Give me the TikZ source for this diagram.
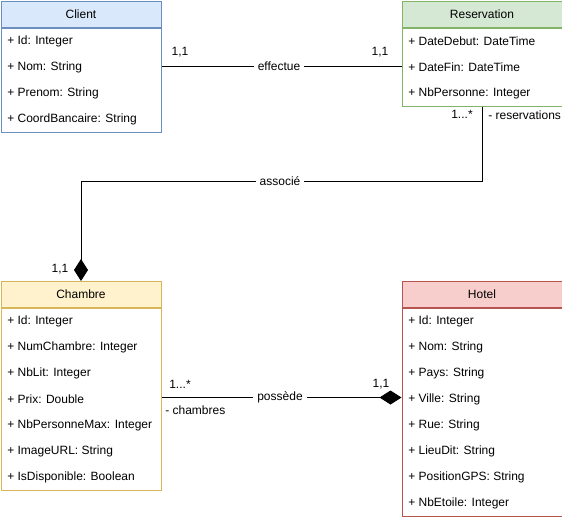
\documentclass[tikz,border=0pt]{standalone}
\usepackage{fontspec}
\setmainfont{Liberation Sans}
\usetikzlibrary{arrows.meta}
\definecolor{bluefill}{HTML}{DAE8FC}
\definecolor{bluedraw}{HTML}{6C8EBF}
\definecolor{greenfill}{HTML}{D5E8D4}
\definecolor{greendraw}{HTML}{82B366}
\definecolor{yellowfill}{HTML}{FFF2CC}
\definecolor{yellowdraw}{HTML}{D6B656}
\definecolor{redfill}{HTML}{F8CECC}
\definecolor{reddraw}{HTML}{B85450}
\begin{document}
\begin{tikzpicture}[x=0.75pt,y=-0.75pt,
  every node/.style={font=\fontsize{9}{11}\selectfont},
  classhdr/.style={draw, line width=0.75pt, minimum width=120pt, minimum height=19.5pt, anchor=north west, inner sep=0pt},
  classbody/.style={draw, line width=0.75pt, fill=white, minimum width=120pt, anchor=north west, inner sep=0pt},
  attr/.style={anchor=west, inner sep=0pt, yshift=-0.75pt},
  lbl/.style={inner sep=0pt},
  midlbl/.style={fill=white, inner xsep=3pt, inner ysep=1pt},
  conn/.style={line width=0.75pt, draw=black},
  compo/.style={conn, -{Diamond[length=16.5pt,width=10.5pt,fill=black]}}
]
\useasboundingbox (0,0) rectangle (562,518);

% Client
\node[classhdr, fill=bluefill, draw=bluedraw] (client) at (0.5,0.5) {Client};
\node[classbody, draw=bluedraw, minimum height=78pt] (clientb) at (client.south west) {};
\node[attr] (c1) at (7,40) {+ Id: Integer};
\node[attr] (c2) at (7,66) {+ Nom: String};
\node[attr] (c3) at (7,92) {+ Prenom: String};
\node[attr] (c4) at (7,118) {+ CoordBancaire: String};

% Reservation
\node[classhdr, fill=greenfill, draw=greendraw] (res) at (401.5,0.5) {Reservation};
\node[classbody, draw=greendraw, minimum height=58.5pt] (resb) at (res.south west) {};
\node[attr] (r1) at (408,40) {+ DateDebut: DateTime};
\node[attr] (r2) at (408,66) {+ DateFin: DateTime};
\node[attr] (r3) at (408,92) {+ NbPersonne: Integer};

% Chambre
\node[classhdr, fill=yellowfill, draw=yellowdraw] (cham) at (0.5,281) {Chambre};
\node[classbody, draw=yellowdraw, minimum height=136.5pt] (chamb) at (cham.south west) {};
\node[attr] (h1) at (7,320) {+ Id: Integer};
\node[attr] (h2) at (7,346) {+ NumChambre: Integer};
\node[attr] (h3) at (7,372) {+ NbLit: Integer};
\node[attr] (h4) at (7,398) {+ Prix: Double};
\node[attr] (h5) at (7,424) {+ NbPersonneMax: Integer};
\node[attr] (h6) at (7,450) {+ ImageURL: String};
\node[attr] (h7) at (7,476) {+ IsDisponible: Boolean};

% Hotel
\node[classhdr, fill=redfill, draw=reddraw] (hotel) at (401.5,281) {Hotel};
\node[classbody, draw=reddraw, minimum height=156pt] (hotelb) at (hotel.south west) {};
\node[attr] (o1) at (408,320) {+ Id: Integer};
\node[attr] (o2) at (408,346) {+ Nom: String};
\node[attr] (o3) at (408,372) {+ Pays: String};
\node[attr] (o4) at (408,398) {+ Ville: String};
\node[attr] (o5) at (408,424) {+ Rue: String};
\node[attr] (o6) at (408,450) {+ LieuDit: String};
\node[attr] (o7) at (408,476) {+ PositionGPS: String};
\node[attr] (o8) at (408,502) {+ NbEtoile: Integer};

% effectue
\draw[conn] (clientb.east |- 0,66) -- (resb.west |- 0,66);
\node[midlbl] (eff) at (279,66) {effectue};
\node[lbl] (m1) at (180,52) {1,1};
\node[lbl] (m2) at (380,52) {1,1};

% associé
\draw[compo] (resb.south) -- (resb.south |- 0,181) -| (cham.north);
\node[midlbl] (assoc) at (280,181) {associé};
\node[lbl] (m3) at (462,114) {1...*};
\node[lbl, anchor=west] (m4) at (488,115) {- reservations};
\node[lbl] (m5) at (60,269) {1,1};

% possède
\draw[compo] (chamb.east |- 0,397.5) -- (hotelb.west |- 0,397.5);
\node[midlbl] (poss) at (280,397) {possède};
\node[lbl] (m6) at (180,384) {1...*};
\node[lbl, anchor=west] (m7) at (165,410) {- chambres};
\node[lbl] (m8) at (381,384) {1,1};
\end{tikzpicture}
\end{document}
